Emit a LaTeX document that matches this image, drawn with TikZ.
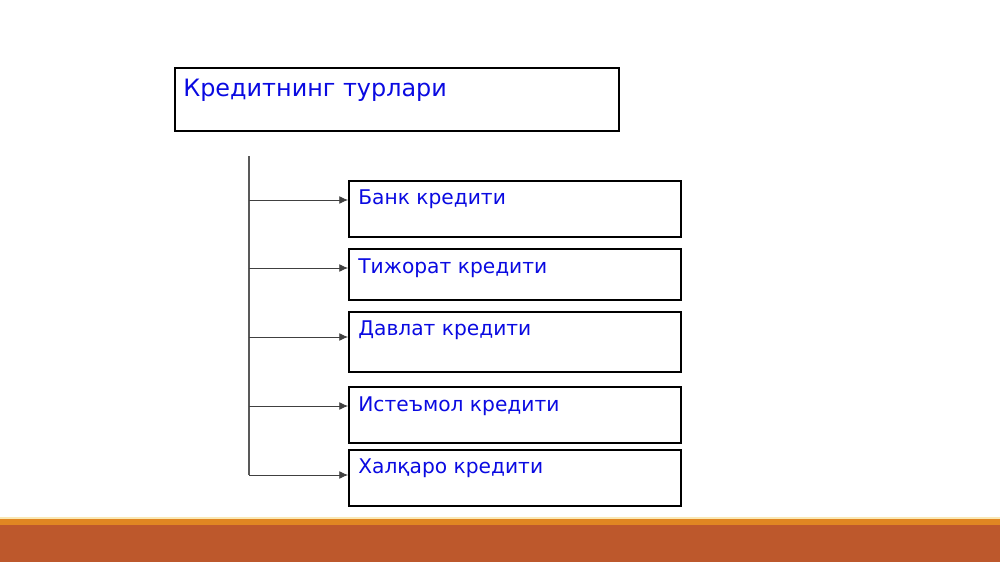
\documentclass[tikz,border=0pt]{standalone}
\usepackage{fontspec}
\setmainfont{DejaVu Sans}
\usetikzlibrary{arrows.meta}

\definecolor{txtblue}{RGB}{10,10,225}
\definecolor{barrust}{RGB}{189,88,44}
\definecolor{barorange}{RGB}{224,134,34}
\definecolor{barpale}{RGB}{250,232,180}

\tikzset{
  box/.style={draw=black, line width=1.1pt, minimum width=6.64cm, minimum height=1.12cm, inner sep=0pt},
  lbl/.style={text=txtblue, font=\fontsize{11.5}{13}\selectfont, anchor=west, inner sep=0pt},
  trunk/.style={draw=black!65, line width=0.6pt},
  arr/.style={draw=black!75, line width=0.5pt, -{Latex[length=5pt,width=4.5pt]}}
}

\begin{document}
\begin{tikzpicture}[x=0.02cm,y=-0.02cm]
\useasboundingbox (0,0) rectangle (1000,562);

% footer bar
\fill[barpale] (0,517) rectangle (1000,519);
\fill[barorange] (0,519) rectangle (1000,524.5);
\fill[barrust] (0,524.5) rectangle (1000,562);

% heading box
\node[box, minimum width=8.88cm, minimum height=1.26cm] (head) at (397,99.5) {};
\node[lbl, font=\fontsize{13.6}{15}\selectfont] (headtxt) at (183,90) {Кредитнинг турлари};

% kinds of credit
\node[box] (b1) at (515,209) {};
\node[box, minimum height=1.02cm] (b2) at (515,274.5) {};
\node[box, minimum height=1.2cm] (b3) at (515,342) {};
\node[box] (b4) at (515,415) {};
\node[box] (b5) at (515,478) {};

\node[lbl] (t1) at (358,199) {Банк кредити};
\node[lbl] (t2) at (358,268) {Тижорат кредити};
\node[lbl] (t3) at (358,330) {Давлат кредити};
\node[lbl] (t4) at (358,406) {Истеъмол кредити};
\node[lbl] (t5) at (358,468) {Халқаро кредити};

% trunk and branches
\coordinate (top) at (249,156);
\coordinate (c1) at (249,200);
\coordinate (c2) at (249,268);
\coordinate (c3) at (249,337);
\coordinate (c4) at (249,406);
\coordinate (c5) at (249,475);
\draw[trunk] (top) -- (c5);

\draw[arr] (c1) -- (c1 -| b1.west);
\draw[arr] (c2) -- (c2 -| b2.west);
\draw[arr] (c3) -- (c3 -| b3.west);
\draw[arr] (c4) -- (c4 -| b4.west);
\draw[arr] (c5) -- (c5 -| b5.west);
\end{tikzpicture}
\end{document}
